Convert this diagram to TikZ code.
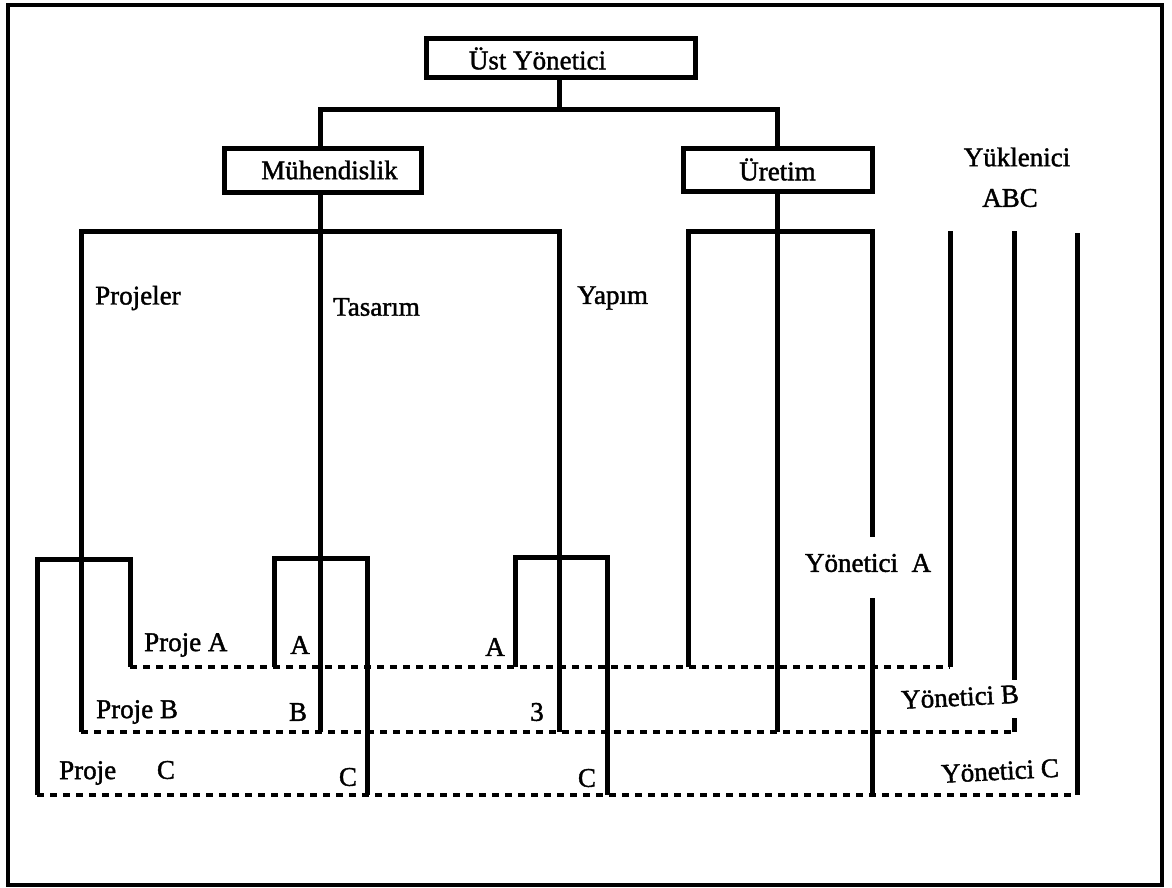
\documentclass[tikz,border=0pt]{standalone}
\usepackage{fontspec}
\setmainfont{Liberation Serif}[FakeBold=1.5]
\begin{document}
\begin{tikzpicture}[x=1pt,y=-1pt,
  txt/.style={inner sep=0pt, font=\fontsize{27}{30}\selectfont},
  box/.style={draw, line width=5pt, inner sep=0pt, font=\fontsize{27}{30}\selectfont},
  sl/.style={line width=5pt, line join=miter},
  dl/.style={line width=4pt, dash pattern=on 7pt off 6pt},
  frame/.style={line width=4pt}]
\useasboundingbox (0,0) rectangle (1172,888);
\draw[frame] (8,5) rectangle (1162,885);

% boxes
\node[box, minimum width=269pt, minimum height=39pt] (ust) at (560.5,58.5) {Üst Yönetici\rule{46pt}{0pt}};
\node[box, minimum width=197pt, minimum height=44pt] (muh) at (322.5,170) {\rule{14pt}{0pt}Mühendislik};
\node[box, minimum width=189pt, minimum height=43pt] (ure) at (777.5,169.5) {Üretim};

% labels
\node[txt, anchor=west] (projeler) at (95,298) {Projeler};
\node[txt, anchor=west] (tasarim) at (333,307) {Tasarım};
\node[txt, anchor=west] (yapim) at (577,298) {Yapım};
\node[txt] (yuk) at (1017,157) {Yüklenici};
\node[txt] (abc) at (1010,198) {ABC};
\node[txt, anchor=west] (pA) at (144,645) {Proje A};
\node[txt] (tA) at (300,645) {A};
\node[txt] (yA) at (495,647) {A};
\node[txt, anchor=west] (pB) at (96,712) {Proje B};
\node[txt] (tB) at (298,712) {B};
\node[txt] (yB) at (537,712) {3};
\node[txt, anchor=west] (pC) at (59,773) {Proje};
\node[txt] (pCC) at (166,770) {C};
\node[txt] (tC) at (348,777) {C};
\node[txt] (yC) at (587,778) {C};
\node[txt] (ynA) at (868,563) {Yönetici~~A};
\node[txt, rotate=3] (ynB) at (960,697) {Yönetici B};
\node[txt, rotate=3] (ynC) at (1000,771) {Yönetici C};

% coordinates
\coordinate (t1) at (559,110);
\coordinate (tl) at (320,110);
\coordinate (tr) at (777,110);
\coordinate (projB) at (81,732);
\coordinate (tasB) at (320,732);
\coordinate (yapB) at (559,732);
\coordinate (ureB) at (777,732);
\coordinate (ureA) at (688,667);
\coordinate (yaTop) at (872,537);
\coordinate (yaBot) at (872,598);
\coordinate (yaC) at (872,795);
\coordinate (k1A) at (950,667);
\coordinate (k2a) at (1014,680);
\coordinate (k2b) at (1014,718);
\coordinate (k2B) at (1014,732);
\coordinate (k3C) at (1077,795);
\coordinate (pjA) at (130,667);
\coordinate (pjC) at (37,795);
\coordinate (tsA) at (274,667);
\coordinate (tsC) at (367,795);
\coordinate (ypA) at (515,667);
\coordinate (ypC) at (607,795);

% dashed project lines
\draw[dl] (pjA) -- (k1A);
\draw[dl] (projB) -- (k2B);
\draw[dl] (pjC) -- (k3C);

% top tree
\draw[sl] (ust.south -| t1) -- (t1);
\draw[sl] (muh.north -| tl) -- (tl) -- (tr) -- (ure.north -| tr);

% Muhendislik branch
\draw[sl] (muh.south -| tasB) -- (tasB);
\draw[sl] (projB) -- (81,231) -- (559,231) -- (yapB);

% Uretim branch
\draw[sl] (ure.south -| ureB) -- (ureB);
\draw[sl] (ureA) -- (688,231) -- (872,231) -- (yaTop);
\draw[sl] (yaBot) -- (yaC);

% Yuklenici lines
\draw[sl] (950,231) -- (k1A);
\draw[sl] (1014,231) -- (k2a);
\draw[sl] (k2b) -- (k2B);
\draw[sl] (1077,233) -- (k3C);

% project brackets
\draw[sl] (pjC) -- (37,559) -- (130,559) -- (pjA);
\draw[sl] (tsA) -- (274,558) -- (367,558) -- (tsC);
\draw[sl] (ypA) -- (515,557) -- (607,557) -- (ypC);
\end{tikzpicture}
\end{document}
